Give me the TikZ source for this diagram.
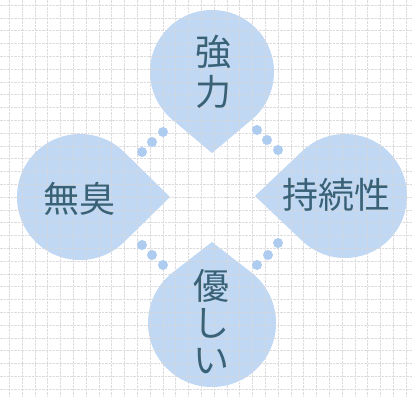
\documentclass[tikz,border=0pt]{standalone}
\usepackage{fontspec}
\newfontfamily\jp{Noto Sans CJK JP}
\definecolor{dropc}{RGB}{192,216,244}
\definecolor{dotc}{RGB}{174,204,240}
\definecolor{txt}{RGB}{58,98,118}
\definecolor{gridc}{RGB}{214,214,218}
\tikzset{
  droplabel/.style={font=\jp\fontsize{36}{40}\selectfont, text=txt, align=center, inner sep=0pt},
  dropshape/.style={fill=dropc},
  dotnode/.style={circle, fill=dotc, minimum size=10pt, inner sep=0pt},
  gridline/.style={gridc, line width=0.45pt, dash pattern=on 2.5pt off 1pt},
}
\newcommand\teardrop[5]{%
  \pgfmathsetmacro\tdth{acos(#3/#4)}%
  \fill[dropshape] (#1,#2) ++(#5:#4) -- ([shift={(#5+\tdth:#3)}]#1,#2)
    arc[start angle=#5+\tdth, end angle=#5+360-\tdth, radius=#3] -- cycle;}
\begin{document}
\begin{tikzpicture}[x=1pt,y=-1pt]
\useasboundingbox (0,0) rectangle (412,397);
\fill[white] (0,0) rectangle (412,397);
% drops
\teardrop{212}{72}{62}{81}{90}
\teardrop{80}{197}{63}{90}{0}
\teardrop{345}{196}{62}{90}{180}
\teardrop{212}{323}{64}{81}{270}
% grid
\begin{scope}[opacity=0.85]
\foreach \i in {0,...,32} {
  \draw[gridline] (9.2+\i*12.8,0) -- (9.2+\i*12.8,397);
  \draw[gridline] (0,5+\i*12.8) -- (412,5+\i*12.8);
}
\end{scope}
% dots
\node[dotnode] (d1) at (163,132) {};
\node[dotnode] (d2) at (152,142) {};
\node[dotnode] (d3) at (142,152) {};
\node[dotnode] (d4) at (257,130) {};
\node[dotnode] (d5) at (267,140) {};
\node[dotnode] (d6) at (278,150) {};
\node[dotnode] (d7) at (142,245) {};
\node[dotnode] (d8) at (152,255) {};
\node[dotnode] (d9) at (163,265) {};
\node[dotnode] (d10) at (278,243) {};
\node[dotnode] (d11) at (268,255) {};
\node[dotnode] (d12) at (257,265) {};
% labels
\node[droplabel] (strong) at (213,72) {強\\力};
\node[droplabel] (odor) at (79,199) {無臭};
\node[droplabel] (lasting) at (336,195) {持続性};
\node[droplabel, font=\jp\fontsize{36}{37}\selectfont] (gentle) at (211,322) {優\\し\\い};
\end{tikzpicture}
\end{document}
